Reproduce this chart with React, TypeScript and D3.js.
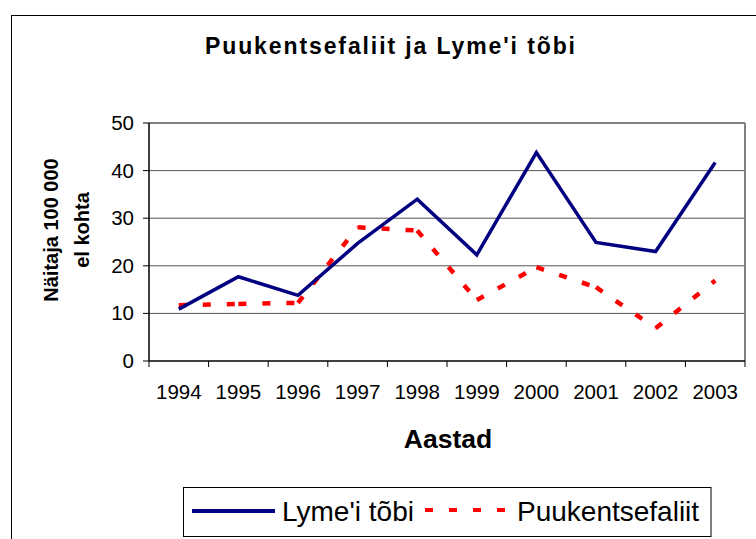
import React from "react";
import * as d3 from "d3";

const years = ["1994", "1995", "1996", "1997", "1998", "1999", "2000", "2001", "2002", "2003"];
const lyme = [10.9, 17.7, 13.8, 24.7, 34.0, 22.3, 43.8, 24.9, 23.0, 41.7];
const puuk = [11.7, 12.0, 12.2, 28.1, 27.4, 12.8, 19.7, 15.5, 6.9, 16.9];
const yTicks = [0, 10, 20, 30, 40, 50];

const FONT = "'Liberation Sans', Arial, sans-serif";

export default function App() {
  const left = 149, right = 745, top = 123, bottom = 361;
  const x = d3.scaleBand<string>().domain(years).range([left, right]).padding(0);
  const y = d3.scaleLinear().domain([0, 50]).range([bottom, top]);
  const cx = (i: number) => (x(years[i]) as number) + x.bandwidth() / 2;

  const line = d3
    .line<number>()
    .x((_, i) => cx(i))
    .y((d) => y(d));

  const lymePath = line(lyme) as string;
  const segLine = d3
    .line<[number, number]>()
    .x((d) => d[0])
    .y((d) => d[1]);
  const puukSegs = puuk.slice(1).map((v, i) =>
    segLine([
      [cx(i), y(puuk[i])],
      [cx(i + 1), y(v)],
    ]) as string
  );

  const boundaries = years.map((yr) => x(yr) as number).concat([right]);

  return (
    <svg
      width={756}
      height={539}
      style={{ position: "absolute", left: 0, top: 0, background: "#fff" }}
      fontFamily={FONT}
    >
      <rect x={0} y={0} width={756} height={539} fill="#fff" />
      {/* outer frame */}
      <rect x={11.5} y={15.5} width={900} height={700} fill="none" stroke="#000" strokeWidth={1} />

      {/* title */}
      <text x={205} y={54} fontSize={23} fontWeight="bold" textLength={370} lengthAdjust="spacing">
        Puukentsefaliit ja Lyme'i tõbi
      </text>

      {/* gridlines */}
      {yTicks.slice(1, 5).map((t) => (
        <line key={t} x1={left} x2={right} y1={y(t)} y2={y(t)} stroke="#555" strokeWidth={1} />
      ))}
      {/* plot border top/right */}
      <line x1={left} x2={right} y1={top} y2={top} stroke="#808080" strokeWidth={2} />
      <line x1={right} x2={right} y1={top} y2={bottom} stroke="#808080" strokeWidth={2} />

      {/* y axis */}
      <line x1={left} x2={left} y1={top} y2={bottom} stroke="#000" strokeWidth={1.5} />
      {yTicks.map((t) => (
        <g key={t}>
          <line x1={left - 6} x2={left} y1={y(t)} y2={y(t)} stroke="#000" strokeWidth={1} />
          <text x={134} y={y(t) + 7} fontSize={20.5} textAnchor="end" fill="#000">
            {t}
          </text>
        </g>
      ))}

      {/* x axis */}
      <line x1={left} x2={right} y1={bottom} y2={bottom} stroke="#000" strokeWidth={1.5} />
      {boundaries.map((b, i) => (
        <line key={i} x1={b} x2={b} y1={bottom} y2={bottom + 6} stroke="#000" strokeWidth={1} />
      ))}
      {years.map((yr, i) => (
        <text key={yr} x={cx(i)} y={399} fontSize={20.5} textAnchor="middle" fill="#000">
          {yr}
        </text>
      ))}

      {/* axis titles */}
      <text x={448} y={448} fontSize={26.5} fontWeight="bold" textAnchor="middle">
        Aastad
      </text>
      <g transform="translate(58,230) rotate(-90)">
        <text x={0} y={0} fontSize={20} fontWeight="bold" textAnchor="middle">
          Näitaja 100 000
        </text>
      </g>
      <g transform="translate(88.5,230) rotate(-90)">
        <text x={0} y={0} fontSize={20} fontWeight="bold" textAnchor="middle">
          el kohta
        </text>
      </g>

      {/* series */}
      {puukSegs.map((d, i) => (
        <path key={i} d={d} fill="none" stroke="#FF0000" strokeWidth={4.5} strokeDasharray="8 16" />
      ))}
      <path d={lymePath} fill="none" stroke="#000080" strokeWidth={3.5} strokeLinejoin="miter" />

      {/* legend */}
      <rect x={183.5} y={487.5} width={527.5} height={49} fill="#fff" stroke="#000" strokeWidth={1} />
      <line x1={192} x2={275} y1={511} y2={511} stroke="#000080" strokeWidth={4} />
      <text x={282} y={521} fontSize={28}>
        Lyme'i tõbi
      </text>
      <line x1={425} x2={509} y1={510} y2={510} stroke="#FF0000" strokeWidth={4} strokeDasharray="8 16" />
      <text x={517} y={521} fontSize={28}>
        Puukentsefaliit
      </text>
    </svg>
  );
}
